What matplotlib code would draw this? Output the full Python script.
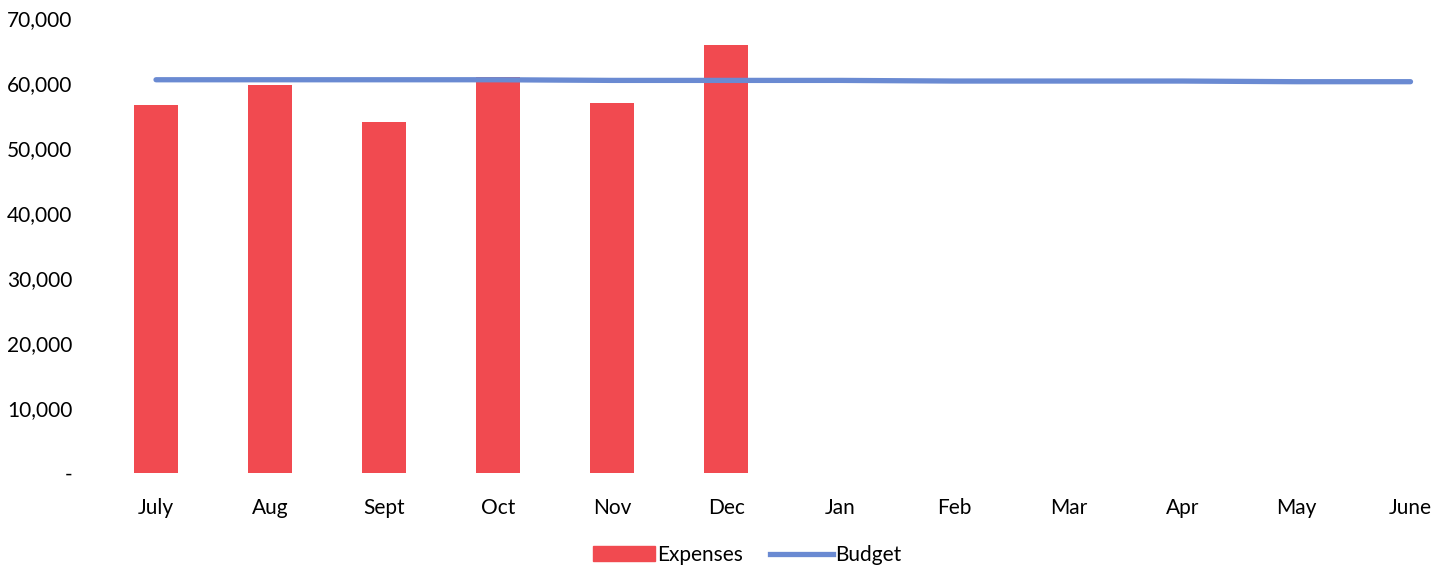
import matplotlib.pyplot as plt
from matplotlib.ticker import FuncFormatter
from matplotlib.patches import Patch
from matplotlib.lines import Line2D

months = ["July", "Aug", "Sept", "Oct", "Nov", "Dec",
          "Jan", "Feb", "Mar", "Apr", "May", "June"]
expenses = [56600, 59700, 54000, 61000, 57000, 65800]
budget = [60500, 60500, 60500, 60500, 60400, 60400,
          60400, 60300, 60300, 60300, 60200, 60200]

plt.rcParams["font.family"] = ["Lato", "DejaVu Sans"]

fig = plt.figure(figsize=(14.47, 5.69), dpi=100)
ax = fig.add_axes([99 / 1447, 96 / 569, 1 - 99 / 1447, (473 - 18) / 569])

x = list(range(len(months)))
ax.bar(x[:len(expenses)], expenses, width=0.39, color="#F14A50", zorder=2)
ax.plot(x, budget, color="#6A8AD2", linewidth=3.8, solid_capstyle="round", zorder=3)

ax.set_xlim(-0.5, 11.32)
ax.set_ylim(0, 70000)
ax.set_yticks(range(0, 70001, 10000))
ax.yaxis.set_major_formatter(FuncFormatter(lambda v, p: "-" if v == 0 else f"{int(v):,}"))
ax.set_xticks(x)
ax.set_xticklabels(months)
ax.tick_params(axis="both", length=0, labelsize=15, colors="black")
ax.tick_params(axis="x", pad=18)
ax.tick_params(axis="y", pad=19)
for s in ax.spines.values():
    s.set_visible(False)

handles = [Patch(color="#F14A50", label="Expenses"),
           Line2D([0], [0], color="#6A8AD2", linewidth=3.8, label="Budget")]
fig.legend(handles=handles, loc="center", bbox_to_anchor=(747 / 1447, 1 - 555 / 569),
           ncol=2, frameon=False, fontsize=15, handlelength=3.0, handletextpad=0.1,
           columnspacing=1.3)

fig.savefig("out.png", dpi=100)
